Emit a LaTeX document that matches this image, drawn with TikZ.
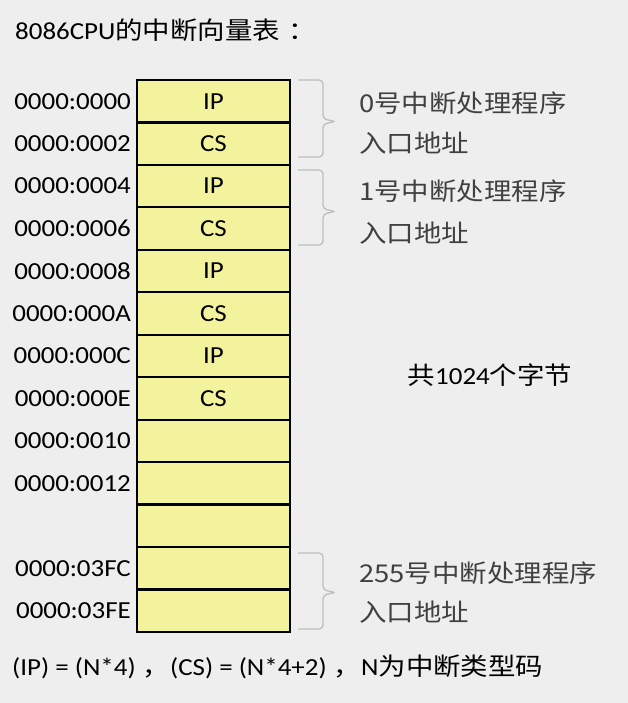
\documentclass[tikz,border=0pt]{standalone}
\usepackage{fontspec}
\setmainfont{Carlito}[FakeStretch=1.1]
\newfontfamily\cjk{Noto Sans CJK SC}[FakeStretch=1.12]
\usetikzlibrary{positioning}
\newcommand{\vecfont}{\fontsize{24.5}{29}\selectfont}
\definecolor{pagegray}{RGB}{238,238,238}
\definecolor{vecyellow}{RGB}{243,243,158}
\definecolor{bracegray}{RGB}{190,190,190}
\definecolor{notegray}{RGB}{64,64,64}
\tikzset{
  cell/.style={draw=black, line width=2.2pt, fill=vecyellow,
               minimum width=153pt, minimum height=42.46pt,
               inner sep=0pt, font=\vecfont},
  addr/.style={anchor=east, inner sep=0pt, font=\vecfont},
  handler/.style={anchor=west, inner sep=0pt, text=notegray,
                  font=\vecfont\cjk},
  bracket/.style={draw=bracegray, line width=1.3pt, rounded corners=4pt},
  caption/.style={anchor=west, inner sep=0pt, font=\vecfont},
}

\begin{document}
\begin{tikzpicture}[x=1pt,y=-1pt]
  \path[fill=pagegray, use as bounding box] (0,0) rectangle (628,703);

  \node[caption] (title) at (15,30) {8086CPU{\cjk 的中断向量表\hspace{8pt}：}};

  % vector table
  \node[cell] (c0) at (213.5,101.2) {IP};
  \node[cell] (c1) at (213.5,143.7) {CS};
  \node[cell] (c2) at (213.5,186.1) {IP};
  \node[cell] (c3) at (213.5,228.6) {CS};
  \node[cell] (c4) at (213.5,271.1) {IP};
  \node[cell] (c5) at (213.5,313.5) {CS};
  \node[cell] (c6) at (213.5,356.0) {IP};
  \node[cell] (c7) at (213.5,398.4) {CS};
  \node[cell] (c8) at (213.5,440.9) {};
  \node[cell] (c9) at (213.5,483.4) {};
  \node[cell] (c10) at (213.5,525.8) {};
  \node[cell] (c11) at (213.5,568.3) {};
  \node[cell] (c12) at (213.5,610.8) {};

  \node[addr] (a0) at (131,101.2) {0000:0000};
  \node[addr] (a1) at (131,143.7) {0000:0002};
  \node[addr] (a2) at (131,186.1) {0000:0004};
  \node[addr] (a3) at (131,228.6) {0000:0006};
  \node[addr] (a4) at (131,271.1) {0000:0008};
  \node[addr] (a5) at (131,313.5) {0000:000A};
  \node[addr] (a6) at (131,356.0) {0000:000C};
  \node[addr] (a7) at (131,398.4) {0000:000E};
  \node[addr] (a8) at (131,440.9) {0000:0010};
  \node[addr] (a9) at (131,483.4) {0000:0012};
  \node[addr] (a11) at (131,568.3) {0000:03FC};
  \node[addr] (a12) at (131,610.8) {0000:03FE};

  % braces
  \draw[bracket] (298,80) -- (323,80) -- (323,119) -- (336,121.5)
    -- (323,124) -- (323,157) -- (298,157);
  \draw[bracket] (298,170) -- (323,170) -- (323,209) -- (336,211.5)
    -- (323,214) -- (323,245) -- (298,245);
  \draw[bracket] (298,553) -- (323,553) -- (323,590) -- (336,592.5)
    -- (323,595) -- (323,629) -- (298,629);

  \node[handler] (h0) at (359,103) {0号中断处理程序};
  \node[handler] (e0) at (359,143) {入口地址};
  \node[handler] (h1) at (359,191) {1号中断处理程序};
  \node[handler] (e1) at (359,233) {入口地址};
  \node[handler] (h255) at (359,573) {255号中断处理程序};
  \node[handler] (e255) at (359,612) {入口地址};

  \node[inner sep=0pt, font=\vecfont] (total) at (490,375)
    {{\cjk 共}1024{\cjk 个字节}};

  \node[caption] (rule) at (12,667)
    {(IP) = (N*4){\cjk \hspace{7pt}，}(CS) = (N*4+2){\cjk \hspace{7pt}，}N{\cjk 为中断类型码}};
\end{tikzpicture}
\end{document}
